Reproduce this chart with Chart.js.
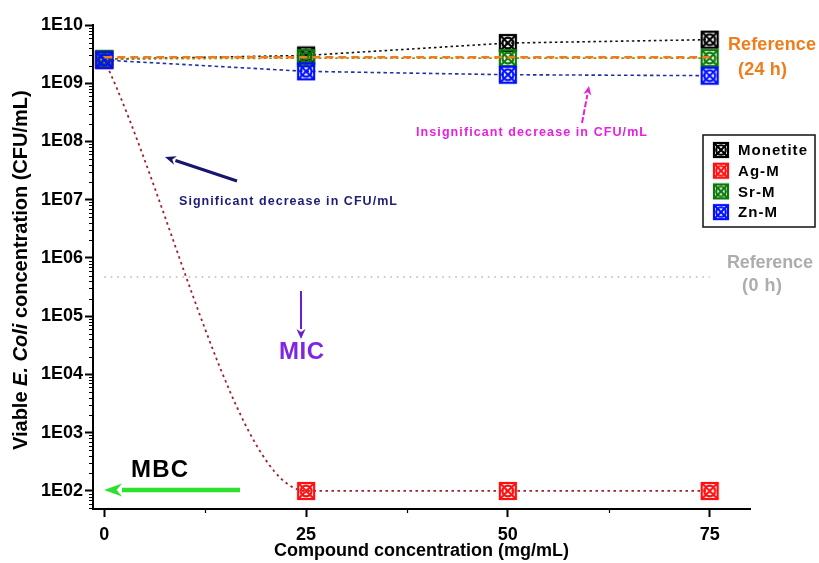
<!DOCTYPE html>
<html>
<head>
<meta charset="utf-8">
<title>Viable E. coli vs compound concentration</title>
<style>
  html, body { margin: 0; padding: 0; background: #fff; }
  #wrap { width: 819px; height: 563px; }
</style>
</head>
<body>
<div id="wrap"><canvas id="chart" width="819" height="563"></canvas></div>
<script src="https://cdn.jsdelivr.net/npm/chart.js@4.4.1/dist/chart.umd.min.js"></script>
<script>
'use strict';

// ─── DATA ────────────────────────────────────────────────────────────────────
const concentrations = [0, 25, 50, 75];          // mg/mL
const monetite = [2.6e9, 3.0e9, 4.9e9, 5.6e9];   // CFU/mL
const agM      = [2.5e9, 100, 100, 100];
const srM      = [2.6e9, 2.7e9, 2.7e9, 2.7e9];
const znM      = [2.5e9, 1.6e9, 1.4e9, 1.35e9];

const refX     = [0, 75];
const ref24h   = [2.8e9, 2.8e9];
const ref0h    = [4.7e5, 4.7e5];

const xTicks   = [0, 25, 50, 75];
const xMinor   = [12.5, 37.5, 62.5];
const yTicks   = [1e2, 1e3, 1e4, 1e5, 1e6, 1e7, 1e8, 1e9, 1e10];

const FONT = 'Arial, "Liberation Sans", sans-serif';

const pts = (xs, ys) => xs.map((x, i) => ({ x, y: ys[i] }));

// crossed square + circle symbol, like the GraphPad marker
function makeMarker(color, size, lw) {
  const c = document.createElement('canvas');
  const m = 2;
  c.width = c.height = size + m * 2;
  const g = c.getContext('2d');
  g.strokeStyle = color;
  g.lineWidth = lw;
  g.strokeRect(m, m, size, size);
  g.beginPath();
  g.moveTo(m, m); g.lineTo(m + size, m + size);
  g.moveTo(m + size, m); g.lineTo(m, m + size);
  g.stroke();
  g.beginPath();
  g.arc(m + size / 2, m + size / 2, size * 0.34, 0, Math.PI * 2);
  g.stroke();
  return c;
}

const MARK = {
  monetite: makeMarker('#000000', 16, 2.2),
  ag:       makeMarker('#ff1010', 16, 2.2),
  sr:       makeMarker('#0a7a0a', 16, 2.2),
  zn:       makeMarker('#0010ff', 16, 2.2)
};
const LEGEND_MARK = {
  monetite: makeMarker('#000000', 14, 2.2),
  ag:       makeMarker('#ff1010', 14, 2.2),
  sr:       makeMarker('#0a7a0a', 14, 2.2),
  zn:       makeMarker('#0010ff', 14, 2.2)
};

// ─── HELPERS ─────────────────────────────────────────────────────────────────
// draws text char by char so it spans a given width
function spacedText(ctx, str, x, y, width) {
  const chars = [...str];
  const w = chars.map(ch => ctx.measureText(ch).width);
  const total = w.reduce((a, b) => a + b, 0);
  const gap = chars.length > 1 ? (width - total) / (chars.length - 1) : 0;
  let cx = x;
  chars.forEach((ch, i) => { ctx.fillText(ch, cx, y); cx += w[i] + gap; });
}

function arrow(ctx, x1, y1, x2, y2, color, lw, headLen, headW, dash) {
  const ang = Math.atan2(y2 - y1, x2 - x1);
  const bx = x2 - headLen * Math.cos(ang), by = y2 - headLen * Math.sin(ang);
  ctx.save();
  ctx.strokeStyle = color; ctx.fillStyle = color;
  ctx.lineWidth = lw; ctx.lineCap = 'butt';
  ctx.setLineDash(dash || []);
  ctx.beginPath(); ctx.moveTo(x1, y1); ctx.lineTo(bx, by); ctx.stroke();
  ctx.setLineDash([]);
  ctx.beginPath();
  ctx.moveTo(x2, y2);
  ctx.lineTo(bx + headW * Math.sin(ang), by - headW * Math.cos(ang));
  ctx.lineTo(bx + headLen * 0.3 * Math.cos(ang), by + headLen * 0.3 * Math.sin(ang));
  ctx.lineTo(bx - headW * Math.sin(ang), by + headW * Math.cos(ang));
  ctx.closePath(); ctx.fill();
  ctx.restore();
}

// ─── PLUGINS ─────────────────────────────────────────────────────────────────
const minorTicks = {
  id: 'minorTicks',
  afterDraw(chart) {
    const { ctx, chartArea: a } = chart;
    const { x, y } = chart.scales;
    ctx.save();
    ctx.strokeStyle = '#000';
    ctx.lineWidth = 1.2;
    ctx.beginPath();
    for (let e = 1; e <= 9; e++) {
      for (let k = 2; k <= 9; k++) {
        const v = k * Math.pow(10, e);
        if (v < y.min || v > y.max) continue;
        const py = Math.round(y.getPixelForValue(v)) + 0.5;
        ctx.moveTo(a.left - 4, py); ctx.lineTo(a.left, py);
      }
    }
    xMinor.forEach(v => {
      const px = Math.round(x.getPixelForValue(v)) + 0.5;
      ctx.moveTo(px, a.bottom); ctx.lineTo(px, a.bottom + 4);
    });
    ctx.stroke();
    ctx.restore();
  }
};

const yTitle = {
  id: 'yTitle',
  afterDraw(chart) {
    const ctx = chart.ctx;
    const parts = [
      { t: 'Viable ', f: 'bold' },
      { t: 'E. Coli', f: 'italic bold' },
      { t: ' concentration (CFU/mL)', f: 'bold' }
    ];
    const target = 360;
    const measure = size => parts.reduce((s, p) => {
      ctx.font = `${p.f} ${size}px ${FONT}`;
      return s + ctx.measureText(p.t).width;
    }, 0);
    const size = 18 * target / measure(18);
    ctx.save();
    ctx.translate(21, 270);
    ctx.rotate(-Math.PI / 2);
    ctx.fillStyle = '#000';
    ctx.textBaseline = 'middle';
    let cx = -target / 2;
    parts.forEach(p => {
      ctx.font = `${p.f} ${size}px ${FONT}`;
      ctx.fillText(p.t, cx, 0);
      cx += ctx.measureText(p.t).width;
    });
    ctx.restore();
  }
};

const notes = {
  id: 'notes',
  afterDatasetsDraw(chart) {
    const ctx = chart.ctx;
    ctx.save();
    ctx.textBaseline = 'middle';

    // reference labels
    ctx.font = `bold 18px ${FONT}`;
    ctx.fillStyle = '#f07d1a';
    spacedText(ctx, 'Reference', 728, 45, 88);
    spacedText(ctx, '(24 h)', 738, 70, 49);
    ctx.fillStyle = '#adadad';
    spacedText(ctx, 'Reference', 727, 263, 86);
    spacedText(ctx, '(0 h)', 742, 286, 40);

    // decrease notes
    ctx.font = `bold 12.5px ${FONT}`;
    ctx.fillStyle = '#e61fe0';
    spacedText(ctx, 'Insignificant decrease in CFU/mL', 416, 133, 231);
    ctx.fillStyle = '#1c1c78';
    spacedText(ctx, 'Significant decrease in CFU/mL', 179, 202, 218);

    ctx.font = `bold 24px ${FONT}`;
    ctx.fillStyle = '#8026e0';
    spacedText(ctx, 'MIC', 279, 352, 45);
    ctx.fillStyle = '#000';
    spacedText(ctx, 'MBC', 131, 470, 57);

    arrow(ctx, 582, 123, 589, 86, '#e61fe0', 2, 9, 4, [6, 2]);
    arrow(ctx, 237, 181, 165, 157, '#16166e', 3, 11, 4.5);
    arrow(ctx, 301, 291, 301, 339, '#6a1fd0', 2, 10, 4.5);
    arrow(ctx, 240, 490, 104, 490, '#2fe02f', 4.5, 18, 6.5);
    ctx.restore();
  }
};

const boxLegend = {
  id: 'boxLegend',
  afterDraw(chart) {
    const ctx = chart.ctx;
    const rows = [
      { label: 'Monetite', m: LEGEND_MARK.monetite },
      { label: 'Ag-M', m: LEGEND_MARK.ag },
      { label: 'Sr-M', m: LEGEND_MARK.sr },
      { label: 'Zn-M', m: LEGEND_MARK.zn }
    ];
    ctx.save();
    ctx.fillStyle = '#fff';
    ctx.fillRect(703, 135, 112, 92);
    ctx.strokeStyle = '#111';
    ctx.lineWidth = 1.5;
    ctx.strokeRect(703, 135, 112, 92);
    ctx.font = `bold 15px ${FONT}`;
    ctx.textBaseline = 'middle';
    ctx.fillStyle = '#000';
    const base = ctx.measureText('Monetite').width;
    const gap = (69 - base) / 7;
    rows.forEach((r, i) => {
      const cy = 150 + i * 20.7;
      ctx.drawImage(r.m, 721 - r.m.width / 2, cy - r.m.height / 2);
      const w = ctx.measureText(r.label).width + gap * (r.label.length - 1);
      spacedText(ctx, r.label, 738, cy + 1, w);
    });
    ctx.restore();
  }
};

// ─── CHART ───────────────────────────────────────────────────────────────────
const tickFont = { family: FONT, size: 18, weight: 'bold' };

new Chart(document.getElementById('chart'), {
  type: 'line',
  data: {
    datasets: [
      {
        label: 'Reference (24 h)',
        data: pts(refX, ref24h),
        borderColor: '#f07d1a', borderWidth: 2.5, borderDash: [8, 5],
        pointRadius: 0, order: 0
      },
      {
        label: 'Reference (0 h)',
        data: pts(refX, ref0h),
        borderColor: '#b5b5b5', borderWidth: 1.5, borderDash: [1.5, 5],
        pointRadius: 0, order: 5
      },
      {
        label: 'Monetite',
        data: pts(concentrations, monetite),
        borderColor: '#111', borderWidth: 1.6, borderDash: [2.5, 3],
        pointStyle: MARK.monetite, pointRadius: 9, order: 4
      },
      {
        label: 'Ag-M',
        data: pts(concentrations, agM),
        borderColor: '#a3202e', borderWidth: 1.8, borderDash: [2.5, 3.5],
        cubicInterpolationMode: 'monotone',
        pointStyle: MARK.ag, pointRadius: 9, order: 3
      },
      {
        label: 'Sr-M',
        data: pts(concentrations, srM),
        borderColor: '#8a8c1c', borderWidth: 1.6, borderDash: [2.5, 3],
        pointStyle: MARK.sr, pointRadius: 9, order: 2
      },
      {
        label: 'Zn-M',
        data: pts(concentrations, znM),
        borderColor: '#2030a8', borderWidth: 1.6, borderDash: [3.5, 3],
        pointStyle: MARK.zn, pointRadius: 9, order: 1
      }
    ]
  },
  options: {
    responsive: false,
    animation: false,
    devicePixelRatio: 1,
    layout: { padding: { left: 0, right: 69, top: 25, bottom: 0 } },
    plugins: {
      legend: { display: false },
      tooltip: { enabled: false }
    },
    scales: {
      x: {
        type: 'linear',
        min: -1.4, max: 80,
        afterBuildTicks: s => { s.ticks = xTicks.map(v => ({ value: v })); },
        afterFit: s => { s.height = 54; },
        ticks: { color: '#000', font: tickFont, padding: 7, maxRotation: 0 },
        grid: { drawOnChartArea: false, drawTicks: true, tickLength: 8, tickColor: '#000', tickWidth: 2 },
        border: { display: true, color: '#000', width: 2 },
        title: {
          display: true,
          text: 'Compound concentration (mg/mL)',
          color: '#000',
          font: tickFont,
          padding: { top: 0, bottom: 1 }
        }
      },
      y: {
        type: 'logarithmic',
        min: 49, max: 1e10,
        afterBuildTicks: s => { s.ticks = yTicks.map(v => ({ value: v, major: true })); },
        afterFit: s => { s.width = 93; },
        ticks: {
          color: '#000', font: tickFont, padding: 2,
          callback: v => '1E' + String(Math.round(Math.log10(v))).padStart(2, '0')
        },
        grid: { drawOnChartArea: false, drawTicks: true, tickLength: 8, tickColor: '#000', tickWidth: 2 },
        border: { display: true, color: '#000', width: 2 }
      }
    }
  },
  plugins: [minorTicks, notes, yTitle, boxLegend]
});
</script>
</body>
</html>
